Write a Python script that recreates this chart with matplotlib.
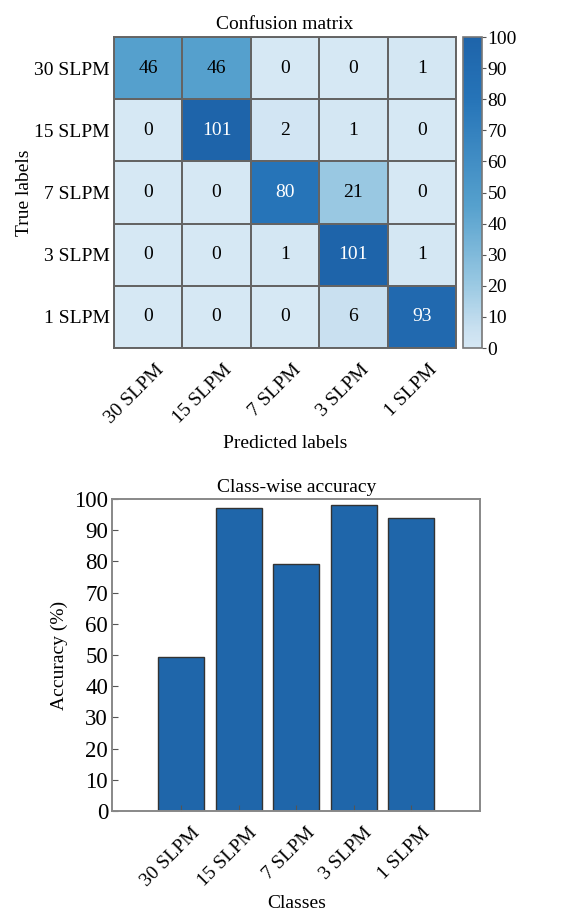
import numpy as np
import matplotlib
matplotlib.use("Agg")
import matplotlib.pyplot as plt
from matplotlib.colors import LinearSegmentedColormap
from matplotlib.transforms import ScaledTranslation


classes = ["30 SLPM", "15 SLPM", "7 SLPM", "3 SLPM", "1 SLPM"]
cm_row_30 = [46, 46, 0, 0, 1]
cm_row_15 = [0, 101, 2, 1, 0]
cm_row_7 = [0, 0, 80, 21, 0]
cm_row_3 = [0, 0, 1, 101, 1]
cm_row_1 = [0, 0, 0, 6, 93]
accuracy = [49.5, 97.1, 79.2, 98.1, 93.9]
cbar_ticks = [0, 10, 20, 30, 40, 50, 60, 70, 80, 90, 100]
acc_ticks = [0, 10, 20, 30, 40, 50, 60, 70, 80, 90, 100]

plt.rcParams["font.family"] = ["Liberation Serif", "DejaVu Serif"]
plt.rcParams["font.size"] = 14

# colours sampled from the reference heatmap
cmap = LinearSegmentedColormap.from_list(
    "ref_blues",
    [(0.0, "#d6e8f4"), (0.06, "#c9e0f0"), (0.21, "#98c8e2"),
     (0.46, "#55a0cd"), (0.8, "#2674b8"), (1.0, "#1e64aa")],
)

cm = np.array([cm_row_30, cm_row_15, cm_row_7, cm_row_3, cm_row_1])
n = len(classes)

fig = plt.figure(figsize=(5.61, 9.16), dpi=100)


def shift_labels(labels, dx, dy):
    # nudge rotated tick labels by a few pixels
    for lbl in labels:
        lbl.set_transform(lbl.get_transform() +
                          ScaledTranslation(dx / 100, dy / 100, fig.dpi_scale_trans))


# --- confusion matrix ---
ax1 = fig.add_axes([0.203, 0.620, 0.610, 0.3396])
mesh = ax1.pcolormesh(np.arange(n + 1), np.arange(n + 1), cm, cmap=cmap,
                      vmin=0, vmax=100, edgecolors="#646464", linewidth=1.1)
ax1.set_xlim(0, n)
ax1.set_ylim(n, 0)
for i in range(n):
    for j in range(n):
        val = cm[i, j]
        ax1.text(j + 0.5, i + 0.5, str(val), ha="center", va="center",
                 color="white" if val > 70 else "black", fontsize=14)
ax1.set_xticks(np.arange(n) + 0.5)
ax1.set_yticks(np.arange(n) + 0.5)
ax1.set_xticklabels(classes, rotation=45, ha="right", va="top",
                    rotation_mode="anchor")
ax1.set_yticklabels(classes)
ax1.tick_params(length=0)
ax1.tick_params(axis="y", pad=3)
ax1.tick_params(axis="x", pad=4)
shift_labels(ax1.get_xticklabels(), 7, -8)
for s in ax1.spines.values():
    s.set_color("#646464")
    s.set_linewidth(1.4)
ax1.set_title("Confusion matrix", fontsize=14, pad=6)
ax1.set_xlabel("Predicted labels", fontsize=14, labelpad=6)
ax1.set_ylabel("True labels", fontsize=14, labelpad=1)

cax = fig.add_axes([0.825, 0.620, 0.034, 0.3396])
cb = fig.colorbar(mesh, cax=cax, ticks=cbar_ticks)
cb.outline.set_edgecolor("#777777")
cb.outline.set_linewidth(1.2)
cax.tick_params(length=3, width=0.8, color="#555555", pad=1, labelsize=14)

# --- class-wise accuracy ---
ax2 = fig.add_axes([0.200, 0.1146, 0.656, 0.3406])
x = np.arange(n)
ax2.bar(x, accuracy, width=0.8, color="#1f66aa", edgecolor="#333333",
        linewidth=1.0, zorder=1)
ax2.set_xlim(-1.2, n - 1 + 1.2)
ax2.set_ylim(0, 100)
ax2.set_yticks(acc_ticks)
ax2.set_xticks(x)
ax2.set_xticklabels(classes, rotation=45, ha="right", va="top",
                    rotation_mode="anchor")
ax2.tick_params(direction="in", length=4, color="#555555", labelsize=14)
ax2.tick_params(axis="y", labelsize=16.5, pad=3)
ax2.tick_params(axis="x", pad=5)
shift_labels(ax2.get_xticklabels(), 10, -6)
for s in ax2.spines.values():
    s.set_color("#888888")
    s.set_linewidth(1.4)
    s.set_zorder(3)
ax2.set_title("Class-wise accuracy", fontsize=14, pad=5)
ax2.set_xlabel("Classes", fontsize=14, labelpad=4)
ax2.set_ylabel("Accuracy (%)", fontsize=14, labelpad=4)

fig.savefig("out.png", dpi=100)
